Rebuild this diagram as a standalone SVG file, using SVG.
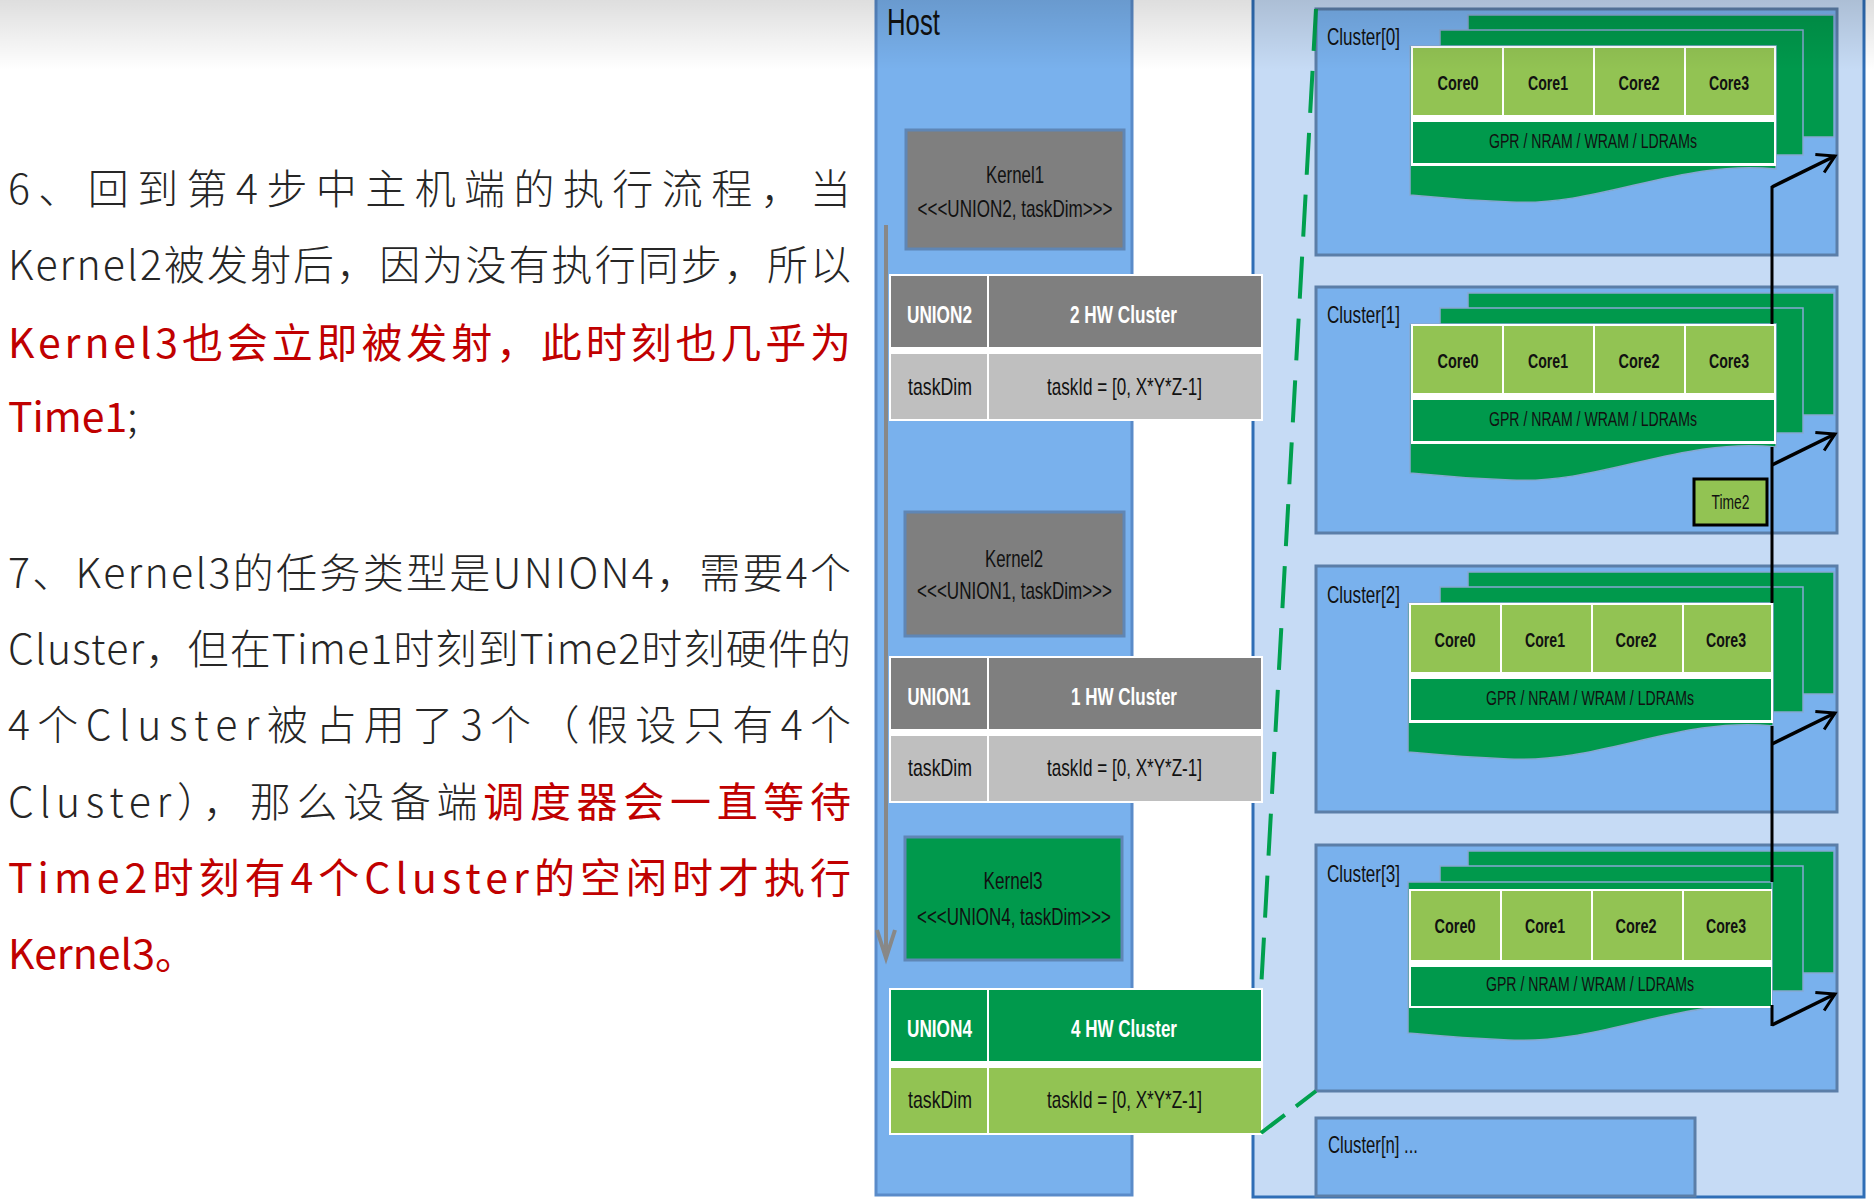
<svg xmlns="http://www.w3.org/2000/svg" width="1874" height="1203" viewBox="0 0 1874 1203">
<defs>
<style>
.para{font-family:"Noto Sans CJK SC","Noto Sans",sans-serif;font-size:41px;fill:#262626;font-weight:300}
.red{fill:#c00000;font-weight:400}
.lb{font-family:"Liberation Sans Narrow","Liberation Sans",Arial,sans-serif;fill:#111;text-anchor:middle}
.k{font-size:24px}
.th{font-size:24px;font-weight:bold;fill:#fff}
.td{font-size:24px}
.cl{font-family:"Liberation Sans Narrow","Liberation Sans",Arial,sans-serif;fill:#111;font-size:24px}
.core{font-size:21px;font-weight:bold}
.gpr{font-size:20px}
.clbox{fill:#79b1ed;stroke:#5b7ea8;stroke-width:3}
.lay{fill:#00994c;stroke:#86a8d2;stroke-width:1.5}
.cell{fill:#92c353}
.gcell{fill:#00994c}
.kgray{fill:#7f7f7f;stroke:#5f86b5;stroke-width:3}
.kgreen{fill:#00994c;stroke:#5f86b5;stroke-width:3}
.hgray{fill:#7f7f7f}
.rgray{fill:#bfbfbf}
.hgreen{fill:#00994c}
.rgreen{fill:#92c353}
</style>
<marker id="ab" markerUnits="userSpaceOnUse" markerWidth="24" markerHeight="24" refX="17" refY="10" orient="auto" overflow="visible">
<path d="M0,0 L17,10 L0,20" fill="none" stroke="#000" stroke-width="3"/>
</marker>
<marker id="ag" markerUnits="userSpaceOnUse" markerWidth="32" markerHeight="22" refX="28" refY="9" orient="auto" overflow="visible">
<path d="M0,0 L28,9 L0,18" fill="none" stroke="#888" stroke-width="4"/>
</marker>
<linearGradient id="fade" x1="0" y1="0" x2="0" y2="1">
<stop offset="0" stop-color="#000" stop-opacity="0.13"/>
<stop offset="1" stop-color="#000" stop-opacity="0"/>
</linearGradient>
</defs>
<rect x="0" y="0" width="1874" height="1203" fill="#fff"/>

<g id="text-left">
<text class="para" x="8" y="204" textLength="843" lengthAdjust="spacing">6、回到第4步中主机端的执行流程，当</text>
<text class="para" x="8" y="280" textLength="843" lengthAdjust="spacing">Kernel2被发射后，因为没有执行同步，所以</text>
<text class="para red" x="8" y="358" textLength="843" lengthAdjust="spacing">Kernel3也会立即被发射，此时刻也几乎为</text>
<text class="para" x="8" y="432"><tspan class="red">Time1</tspan>;</text>
<text class="para" x="8" y="588" textLength="843" lengthAdjust="spacing">7、Kernel3的任务类型是UNION4，需要4个</text>
<text class="para" x="8" y="664" textLength="843" lengthAdjust="spacing">Cluster，但在Time1时刻到Time2时刻硬件的</text>
<text class="para" x="8" y="740" textLength="843" lengthAdjust="spacing">4个Cluster被占用了3个（假设只有4个</text>
<text class="para" x="8" y="817" textLength="843" lengthAdjust="spacing">Cluster），那么设备端<tspan class="red">调度器会一直等待</tspan></text>
<text class="para red" x="8" y="893" textLength="843" lengthAdjust="spacing">Time2时刻有4个Cluster的空闲时才执行</text>
<text class="para red" x="8" y="969">Kernel3。</text>
</g>

<g id="host">
<rect x="876" y="-5" width="256" height="1200" fill="#79b1ed" stroke="#5a8bc9" stroke-width="3"/>
<text class="cl" x="887" y="35" style="font-size:36px" textLength="53" lengthAdjust="spacingAndGlyphs">Host</text>
</g>

<g id="device">
<rect x="1253" y="-5" width="611" height="1202" fill="#c6dbf5" stroke="#2f6eb6" stroke-width="3"/>
</g>

<g id="kernel1">
<rect class="kgray" x="906" y="130" width="218" height="119"/>
<text class="lb k" x="1015" y="183" textLength="58" lengthAdjust="spacingAndGlyphs">Kernel1</text>
<text class="lb k" x="1015" y="217" textLength="195" lengthAdjust="spacingAndGlyphs">&lt;&lt;&lt;UNION2, taskDim&gt;&gt;&gt;</text>
</g>

<g id="table-union2">
<rect x="889" y="274" width="374" height="147" fill="#fff"/>
<rect class="hgray" x="891" y="276" width="96" height="71"/>
<rect class="hgray" x="989" y="276" width="272" height="71"/>
<rect class="rgray" x="891" y="354" width="96" height="65"/>
<rect class="rgray" x="989" y="354" width="272" height="65"/>
<text class="lb th" x="939.5" y="322.5" textLength="65" lengthAdjust="spacingAndGlyphs">UNION2</text>
<text class="lb th" x="1123.5" y="322.5" textLength="107" lengthAdjust="spacingAndGlyphs">2 HW Cluster</text>
<text class="lb td" x="940" y="395" textLength="64" lengthAdjust="spacingAndGlyphs">taskDim</text>
<text class="lb td" x="1124.5" y="395" textLength="155" lengthAdjust="spacingAndGlyphs">taskId = [0, X*Y*Z-1]</text>
</g>

<g id="kernel2">
<rect class="kgray" x="905" y="512" width="219" height="124"/>
<text class="lb k" x="1014" y="567" textLength="58" lengthAdjust="spacingAndGlyphs">Kernel2</text>
<text class="lb k" x="1014.5" y="599" textLength="195" lengthAdjust="spacingAndGlyphs">&lt;&lt;&lt;UNION1, taskDim&gt;&gt;&gt;</text>
</g>

<g id="table-union1">
<rect x="889" y="656" width="374" height="147" fill="#fff"/>
<rect class="hgray" x="891" y="658" width="96" height="71"/>
<rect class="hgray" x="989" y="658" width="272" height="71"/>
<rect class="rgray" x="891" y="736" width="96" height="65"/>
<rect class="rgray" x="989" y="736" width="272" height="65"/>
<text class="lb th" x="939" y="704.5" textLength="63" lengthAdjust="spacingAndGlyphs">UNION1</text>
<text class="lb th" x="1124" y="704.5" textLength="106" lengthAdjust="spacingAndGlyphs">1 HW Cluster</text>
<text class="lb td" x="940" y="776" textLength="64" lengthAdjust="spacingAndGlyphs">taskDim</text>
<text class="lb td" x="1124.5" y="776" textLength="155" lengthAdjust="spacingAndGlyphs">taskId = [0, X*Y*Z-1]</text>
</g>

<g id="kernel3">
<rect class="kgreen" x="905" y="837" width="217" height="123"/>
<text class="lb k" x="1013" y="889" textLength="59" lengthAdjust="spacingAndGlyphs">Kernel3</text>
<text class="lb k" x="1014" y="925" textLength="194" lengthAdjust="spacingAndGlyphs">&lt;&lt;&lt;UNION4, taskDim&gt;&gt;&gt;</text>
</g>

<g id="table-union4">
<rect x="889" y="988" width="374" height="147" fill="#fff"/>
<rect class="hgreen" x="891" y="990" width="96" height="71"/>
<rect class="hgreen" x="989" y="990" width="272" height="71"/>
<rect class="rgreen" x="891" y="1068" width="96" height="65"/>
<rect class="rgreen" x="989" y="1068" width="272" height="65"/>
<text class="lb th" x="939.5" y="1037" textLength="65" lengthAdjust="spacingAndGlyphs">UNION4</text>
<text class="lb th" x="1124" y="1037" textLength="106" lengthAdjust="spacingAndGlyphs">4 HW Cluster</text>
<text class="lb td" x="940" y="1108" textLength="64" lengthAdjust="spacingAndGlyphs">taskDim</text>
<text class="lb td" x="1124.5" y="1108" textLength="155" lengthAdjust="spacingAndGlyphs">taskId = [0, X*Y*Z-1]</text>
</g>

<g id="cluster0" transform="translate(0,9)">
<rect class="clbox" x="1316" y="0" width="521" height="246"/>
<rect class="lay" x="1468" y="6" width="366" height="122"/>
<rect class="lay" x="1440" y="21" width="363" height="125"/>
<path class="lay" d="M1410,37 H1776 V160 C1680,150 1600,198 1510,193 C1460,191 1430,188 1410,186 Z"/>
<rect x="1411" y="37" width="365" height="120" fill="#fff"/>
<rect class="cell" x="1413" y="39" width="89" height="67"/>
<rect class="cell" x="1504" y="39" width="89" height="67"/>
<rect class="cell" x="1595" y="39" width="89" height="67"/>
<rect class="cell" x="1686" y="39" width="88" height="67"/>
<rect class="gcell" x="1413" y="113" width="361" height="41"/>
<text class="cl" x="1327" y="36" textLength="73" lengthAdjust="spacingAndGlyphs">Cluster[0]</text>
<text class="lb core" x="1458" y="81" textLength="41" lengthAdjust="spacingAndGlyphs">Core0</text>
<text class="lb core" x="1548" y="81" textLength="40" lengthAdjust="spacingAndGlyphs">Core1</text>
<text class="lb core" x="1639" y="81" textLength="41" lengthAdjust="spacingAndGlyphs">Core2</text>
<text class="lb core" x="1729" y="81" textLength="40" lengthAdjust="spacingAndGlyphs">Core3</text>
<text class="lb gpr" x="1593" y="139" textLength="208" lengthAdjust="spacingAndGlyphs">GPR / NRAM / WRAM / LDRAMs</text>
</g>

<g id="cluster1" transform="translate(0,287)">
<rect class="clbox" x="1316" y="0" width="521" height="246"/>
<rect class="lay" x="1468" y="6" width="366" height="122"/>
<rect class="lay" x="1440" y="21" width="363" height="125"/>
<path class="lay" d="M1410,37 H1776 V160 C1680,150 1600,198 1510,193 C1460,191 1430,188 1410,186 Z"/>
<rect x="1411" y="37" width="365" height="120" fill="#fff"/>
<rect class="cell" x="1413" y="39" width="89" height="67"/>
<rect class="cell" x="1504" y="39" width="89" height="67"/>
<rect class="cell" x="1595" y="39" width="89" height="67"/>
<rect class="cell" x="1686" y="39" width="88" height="67"/>
<rect class="gcell" x="1413" y="113" width="361" height="41"/>
<text class="cl" x="1327" y="36" textLength="73" lengthAdjust="spacingAndGlyphs">Cluster[1]</text>
<text class="lb core" x="1458" y="81" textLength="41" lengthAdjust="spacingAndGlyphs">Core0</text>
<text class="lb core" x="1548" y="81" textLength="40" lengthAdjust="spacingAndGlyphs">Core1</text>
<text class="lb core" x="1639" y="81" textLength="41" lengthAdjust="spacingAndGlyphs">Core2</text>
<text class="lb core" x="1729" y="81" textLength="40" lengthAdjust="spacingAndGlyphs">Core3</text>
<text class="lb gpr" x="1593" y="139" textLength="208" lengthAdjust="spacingAndGlyphs">GPR / NRAM / WRAM / LDRAMs</text>
</g>

<g id="time2">
<rect x="1694" y="479" width="73" height="46" fill="#92c353" stroke="#000" stroke-width="3"/>
<text class="lb" x="1730.5" y="509" style="font-size:21px" textLength="38" lengthAdjust="spacingAndGlyphs">Time2</text>
</g>

<g id="cluster2" transform="translate(0,566)">
<rect class="clbox" x="1316" y="0" width="521" height="246"/>
<rect class="lay" x="1468" y="6" width="366" height="122"/>
<rect class="lay" x="1440" y="21" width="363" height="125"/>
<path class="lay" d="M1408,37 H1773 V160 C1680,150 1600,198 1508,193 C1460,191 1430,188 1408,186 Z"/>
<rect x="1409" y="37" width="364" height="120" fill="#fff"/>
<rect class="cell" x="1411" y="39" width="89" height="67"/>
<rect class="cell" x="1502" y="39" width="89" height="67"/>
<rect class="cell" x="1593" y="39" width="89" height="67"/>
<rect class="cell" x="1684" y="39" width="87" height="67"/>
<rect class="gcell" x="1411" y="113" width="360" height="41"/>
<text class="cl" x="1327" y="37" textLength="73" lengthAdjust="spacingAndGlyphs">Cluster[2]</text>
<text class="lb core" x="1455" y="81" textLength="41" lengthAdjust="spacingAndGlyphs">Core0</text>
<text class="lb core" x="1545" y="81" textLength="40" lengthAdjust="spacingAndGlyphs">Core1</text>
<text class="lb core" x="1636" y="81" textLength="41" lengthAdjust="spacingAndGlyphs">Core2</text>
<text class="lb core" x="1726" y="81" textLength="40" lengthAdjust="spacingAndGlyphs">Core3</text>
<text class="lb gpr" x="1590" y="139" textLength="208" lengthAdjust="spacingAndGlyphs">GPR / NRAM / WRAM / LDRAMs</text>
</g>

<g id="cluster3" transform="translate(0,845)">
<rect class="clbox" x="1316" y="0" width="521" height="246"/>
<rect class="lay" x="1468" y="6" width="366" height="122"/>
<rect class="lay" x="1440" y="21" width="363" height="125"/>
<path class="lay" d="M1408,37 H1772 V162 C1680,152 1600,200 1508,195 C1460,193 1430,190 1408,188 Z"/>
<rect x="1409" y="44" width="363" height="119" fill="#fff"/>
<rect class="cell" x="1411" y="46" width="89" height="69"/>
<rect class="cell" x="1502" y="46" width="89" height="69"/>
<rect class="cell" x="1593" y="46" width="89" height="69"/>
<rect class="cell" x="1684" y="46" width="87" height="69"/>
<rect class="gcell" x="1411" y="122" width="360" height="39"/>
<text class="cl" x="1327" y="37" textLength="73" lengthAdjust="spacingAndGlyphs">Cluster[3]</text>
<text class="lb core" x="1455" y="88" textLength="41" lengthAdjust="spacingAndGlyphs">Core0</text>
<text class="lb core" x="1545" y="88" textLength="40" lengthAdjust="spacingAndGlyphs">Core1</text>
<text class="lb core" x="1636" y="88" textLength="41" lengthAdjust="spacingAndGlyphs">Core2</text>
<text class="lb core" x="1726" y="88" textLength="40" lengthAdjust="spacingAndGlyphs">Core3</text>
<text class="lb gpr" x="1590" y="146" textLength="208" lengthAdjust="spacingAndGlyphs">GPR / NRAM / WRAM / LDRAMs</text>
</g>

<g id="clustern">
<rect class="clbox" x="1316" y="1118" width="379" height="78"/>
<text class="cl" x="1328" y="1153" textLength="90" lengthAdjust="spacingAndGlyphs">Cluster[n] ...</text>
</g>

<g id="connectors">
<path d="M886,225 V958" fill="none" stroke="#888" stroke-width="4" marker-end="url(#ag)"/>
<path d="M1316,9 L1261,990" fill="none" stroke="#00a04e" stroke-width="4" stroke-dasharray="42 20"/>
<path d="M1261,1133 L1316,1091" fill="none" stroke="#00a04e" stroke-width="4" stroke-dasharray="30 14"/>
<path d="M1772,186 V324 M1772,447 V603 M1772,726 V882 M1772,1005 V1026" fill="none" stroke="#000" stroke-width="3"/>
<path d="M1772,187 L1835,156" fill="none" stroke="#000" stroke-width="3.5" marker-end="url(#ab)"/>
<path d="M1772,465 L1835,434" fill="none" stroke="#000" stroke-width="3.5" marker-end="url(#ab)"/>
<path d="M1772,744 L1835,713" fill="none" stroke="#000" stroke-width="3.5" marker-end="url(#ab)"/>
<path d="M1772,1025 L1835,994" fill="none" stroke="#000" stroke-width="3.5" marker-end="url(#ab)"/>
</g>

<rect x="0" y="0" width="1874" height="70" fill="url(#fade)"/>
</svg>
